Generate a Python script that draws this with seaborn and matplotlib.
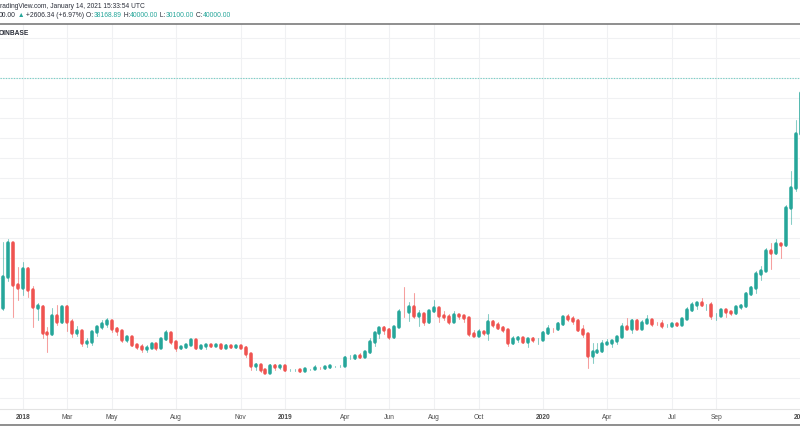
import numpy as np
import pandas as pd
import matplotlib
matplotlib.use("Agg")
import matplotlib.pyplot as plt
from matplotlib.lines import Line2D
import seaborn as sns
import seaborn.objects as so

# ---------------- data (weekly BTC/USD candles, Coinbase) ----------------
first_week = "2017-12-04"

opens = [11250, 15200, 19375, 14160,
         13750, 16125, 13540, 11250, 11400, 8200, 8050, 10290, 9500, 11375, 9550, 8200, 8450, 6900, 7000, 8350,
         8950, 9250, 9650, 8700, 8400, 7350, 7700, 6700, 6450, 6150, 6350, 6750, 6350, 7400, 8200, 7000, 6300,
         6400, 6700, 7300, 6250, 6500, 6700, 6600, 6620, 6300, 6500, 6400, 6480, 6350, 5600, 4000, 4150, 3600,
         3200, 4000,
         3900, 4050, 3500, 3550, 3560, 3450, 3650, 3680, 3850, 3800, 3900, 4000, 4030, 4100, 5050, 5070, 5300,
         5200, 5750, 7000, 8200, 8750, 8550, 7650, 8950, 10850, 10800, 11450, 10250, 10550, 9500, 10900, 11300,
         10350, 10150, 9600, 10400, 10300, 10000, 8050, 7850, 8300, 8200, 9550, 9200, 8800, 8500, 6900, 7400,
         7500, 7100, 7400,
         7300, 7350, 8150, 8700, 8650, 9350, 10150, 9900, 9650, 8550, 8050, 5350, 5850, 5900, 6800, 6900, 7150,
         7700, 8900, 8700, 9650, 8700, 9450, 9750, 9350, 9300, 9000, 9050, 9250, 9200, 9950, 11050, 11700, 11900,
         11650, 11700, 10250, 10350, 11100, 10750, 10650, 11400, 11500, 13050, 13750, 15500, 15950, 18400, 18150,
         19350, 19150, 23850,
         26250, 33000, 38168.89]

highs = [19575, 19890, 19400, 16450,
         17075, 16400, 14100, 11875, 11700, 8950, 11250, 11660, 11500, 11700, 9900, 9100, 8500, 7500, 8450, 9050,
         9750, 9990, 9700, 8900, 8500, 7800, 7800, 6850, 6850, 6650, 6850, 6800, 7600, 8500, 8250, 7150, 6600,
         6800, 7400, 7400, 6600, 6800, 6800, 6700, 6700, 6800, 6580, 6500, 6600, 6500, 5650, 4400, 4300, 3650,
         4250, 4250,
         4100, 4100, 3700, 3650, 3600, 3700, 3700, 4200, 3950, 3950, 4050, 4100, 4150, 5350, 5450, 5350, 5650,
         5900, 7500, 8350, 8950, 9100, 8800, 9000, 11200, 13880, 12000, 13200, 11100, 10650, 11050, 12300, 11450,
         10950, 10600, 10900, 10450, 10350, 10050, 8500, 8650, 8400, 10500, 9800, 9500, 9000, 8500, 7850, 7750,
         7600, 7500, 7700,
         7550, 8450, 9200, 8800, 9600, 10150, 10500, 10300, 9950, 9200, 8200, 6950, 6950, 7300, 7450, 7300, 7800,
         9450, 10050, 9950, 9950, 9750, 10400, 9950, 9600, 9800, 9300, 9450, 9350, 9950, 11450, 12100, 12100,
         12500, 11800, 12100, 10700, 11200, 11150, 10950, 11450, 11750, 13350, 14100, 15950, 16500, 18800, 19450,
         19900, 19400, 24200, 28400,
         34800, 41950, 40000]

lows = [11000, 14700, 10200, 12290,
        12910, 12700, 8950, 9790, 7500, 5825, 7900, 9160, 9400, 8400, 7700, 7800, 6550, 6450, 6650, 7850,
        8700, 8900, 8350, 7950, 7050, 7050, 6500, 6150, 5750, 5800, 6250, 6050, 6300, 7350, 6850, 5900, 6150,
        6250, 6700, 6150, 6200, 6200, 6450, 6500, 6200, 6300, 6350, 6300, 6300, 5200, 3600, 3550, 3300, 3150,
        3200, 3600,
        3650, 3450, 3450, 3450, 3350, 3400, 3550, 3650, 3700, 3650, 3800, 3900, 3900, 4100, 4950, 4950, 5050,
        5150, 5700, 6600, 7550, 8050, 7450, 7550, 8950, 10200, 9650, 10100, 9100, 9200, 9400, 10850, 9500,
        9800, 9350, 9600, 9900, 9600, 7750, 7750, 7800, 7900, 7300, 8950, 8650, 8350, 6550, 6850, 7100,
        6950, 6400, 7100,
        6850, 7350, 8050, 8250, 8550, 9150, 9700, 9300, 8450, 7650, 3850, 4450, 5700, 5850, 6750, 6450, 6800,
        7650, 8650, 8150, 8650, 8650, 9400, 9050, 9200, 8850, 8900, 9000, 9050, 9150, 9950, 10900, 11150,
        11600, 11100, 9900, 9850, 10300, 10150, 10400, 10550, 11200, 11400, 12900, 13200, 14800, 15950, 16200,
        18100, 17600, 19000, 21800,
        25900, 27700, 30100]

closes = [15200, 19375, 14160, 13750,
          16125, 13540, 11450, 11540, 8200, 8050, 10290, 9500, 11375, 9550, 8200, 8450, 6900, 7000, 8350, 8950,
          9250, 9650, 8700, 8400, 7350, 7700, 6700, 6450, 6150, 6350, 6750, 6350, 7400, 8200, 7000, 6300, 6400,
          6700, 7300, 6250, 6500, 6700, 6600, 6620, 6300, 6500, 6400, 6480, 6350, 5600, 4000, 4150, 3600, 3200,
          4000, 3900,
          4050, 3500, 3550, 3560, 3450, 3650, 3680, 3850, 3800, 3900, 4000, 4030, 4100, 5050, 5070, 5300, 5200,
          5750, 7000, 8200, 8750, 8550, 7650, 8950, 10850, 10800, 11450, 10250, 10550, 9500, 10900, 11300, 10350,
          10150, 9600, 10400, 10300, 10000, 8050, 7850, 8300, 8200, 9550, 9200, 8800, 8500, 6900, 7400, 7500,
          7100, 7400, 7300,
          7350, 8150, 8700, 8650, 9350, 10150, 9900, 9650, 8550, 8050, 5350, 5850, 5900, 6800, 6900, 7150, 7700,
          8900, 8700, 9650, 8700, 9450, 9750, 9350, 9300, 9000, 9050, 9250, 9200, 9950, 11050, 11700, 11900,
          11650, 11700, 10250, 10350, 11100, 10750, 10650, 11400, 11500, 13050, 13750, 15500, 15950, 18400,
          18150, 19350, 19150, 23850, 26250,
          33000, 38150, 40000]

tick_dates = ["2018-01-01", "2018-03-05", "2018-05-07", "2018-08-06", "2018-11-05", "2019-01-07",
              "2019-04-01", "2019-06-03", "2019-08-05", "2019-10-07", "2020-01-06", "2020-04-06",
              "2020-07-06", "2020-09-07", "2021-01-04"]
tick_labels = ["2018", "Mar", "May", "Aug", "Nov", "2019", "Apr", "Jun", "Aug", "Oct", "2020", "Apr",
               "Jul", "Sep", "2021"]

header_line = "radingView.com, January 14, 2021 15:33:54 UTC"
legend_parts = [("00.00", "dark"), (" \u25B2", "up"), (" +2606.34 (+6.97%)", "dark"),
                (" O:", "dark"), ("38168.89", "up"), (" H:", "dark"), ("40000.00", "up"),
                (" L:", "dark"), ("30100.00", "up"), (" C:", "dark"), ("40000.00", "up")]
pane_title = "OINBASE"

# ---------------- styling ----------------
UP = "#26a69a"
DOWN = "#ef5350"
DARK = "#2a2e39"
GRID = "#f0f1f3"
FONT = ["Liberation Sans", "DejaVu Sans"]
FS = 4.8

sns.set_style("white")
plt.rcParams["font.family"] = FONT

W, H = 800, 445
fig = plt.figure(figsize=(W / 100, H / 100), dpi=100)
fig.patch.set_facecolor("white")
pane_top, pane_bot = 24, 409
ax = fig.add_axes([0, (H - pane_bot) / H, 1, (pane_bot - pane_top) / H])

dates = pd.date_range(first_week, periods=len(closes), freq="7D")
origin = pd.Timestamp("2018-01-01")
df = pd.DataFrame({
    "week": (dates - origin).days / 7.0,
    "open": opens, "high": highs, "low": lows, "close": closes,
})
df["body_lo"] = df[["open", "close"]].min(axis=1)
df["body_hi"] = df[["open", "close"]].max(axis=1)
df["dir"] = np.where(df["close"] >= df["open"], "up", "down")

(
    so.Plot(df, x="week", color="dir")
    .add(so.Range(linewidth=0.75, alpha=0.55), ymin="low", ymax="high", legend=False)
    .add(so.Range(linewidth=2.55, alpha=1), ymin="body_lo", ymax="body_hi", legend=False)
    .scale(color={"up": UP, "down": DOWN})
    .on(ax)
    .plot()
)

# ticks first (set_ticks may widen the view), then pixel-calibrated limits
tick_k = [(pd.Timestamp(d) - origin).days / 7.0 for d in tick_dates]
ax.set_xticks(tick_k)
ax.set_xticklabels([])
ax.set_yticks(np.arange(0, 47500, 2500))

px_per_week = 4.955
x0_px = 22.7  # pixel of 2018-01-01 candle
price_per_px = 125.0
zero_px = 398.3
ax.set_xlim(-x0_px / px_per_week, (W - x0_px) / px_per_week)
ax.set_ylim(price_per_px * (zero_px - pane_bot), price_per_px * (zero_px - pane_top))
ax.set_facecolor("white")
ax.set_xlabel("")
ax.set_ylabel("")

ax.tick_params(axis="both", length=0, labelleft=False, labelbottom=False)
ax.grid(True, color=GRID, linewidth=0.8)
ax.set_axisbelow(True)
for s in ["left", "right"]:
    ax.spines[s].set_visible(False)
ax.spines["top"].set_visible(True)
ax.spines["top"].set_color("#7b7b7b")
ax.spines["top"].set_linewidth(1.2)
ax.spines["bottom"].set_visible(True)
ax.spines["bottom"].set_color("#e3e3e3")
ax.spines["bottom"].set_linewidth(0.8)

# last price line (light teal, dotted)
ax.axhline(closes[-1], color="#7ccfc6", linewidth=0.8, linestyle=(0, (1.2, 1.2)), zorder=1)

# time-axis labels
for k, lab in zip(tick_k, tick_labels):
    ax.text(k, -8.7 / (pane_bot - pane_top), lab, transform=ax.get_xaxis_transform(),
            ha="center", va="center", fontsize=FS, family=FONT, color="#4a4a4a",
            fontweight="bold" if lab.isdigit() else "normal", clip_on=False)

# bottom separator
yb = (H - 425) / H
fig.add_artist(Line2D([0, 1], [yb, yb], transform=fig.transFigure, color="#7b7b7b", linewidth=1.2))

# header texts
fig.text(-0.5 / W, 1 - 6.2 / H, header_line, fontsize=FS, family=FONT, color=DARK, va="center", ha="left")
renderer = fig.canvas.get_renderer()
xpos = -1.0
for s, c in legend_parts:
    t = fig.text(xpos / W, 1 - 15.3 / H, s, fontsize=4.9, family=FONT,
                 color=UP if c == "up" else DARK, va="center", ha="left")
    xpos += t.get_window_extent(renderer=renderer).width
fig.text(-1.0 / W, 1 - 33.3 / H, pane_title, fontsize=FS, family=FONT, color=DARK,
         fontweight="bold", va="center", ha="left")

fig.savefig("out.png", dpi=100, facecolor="white")
